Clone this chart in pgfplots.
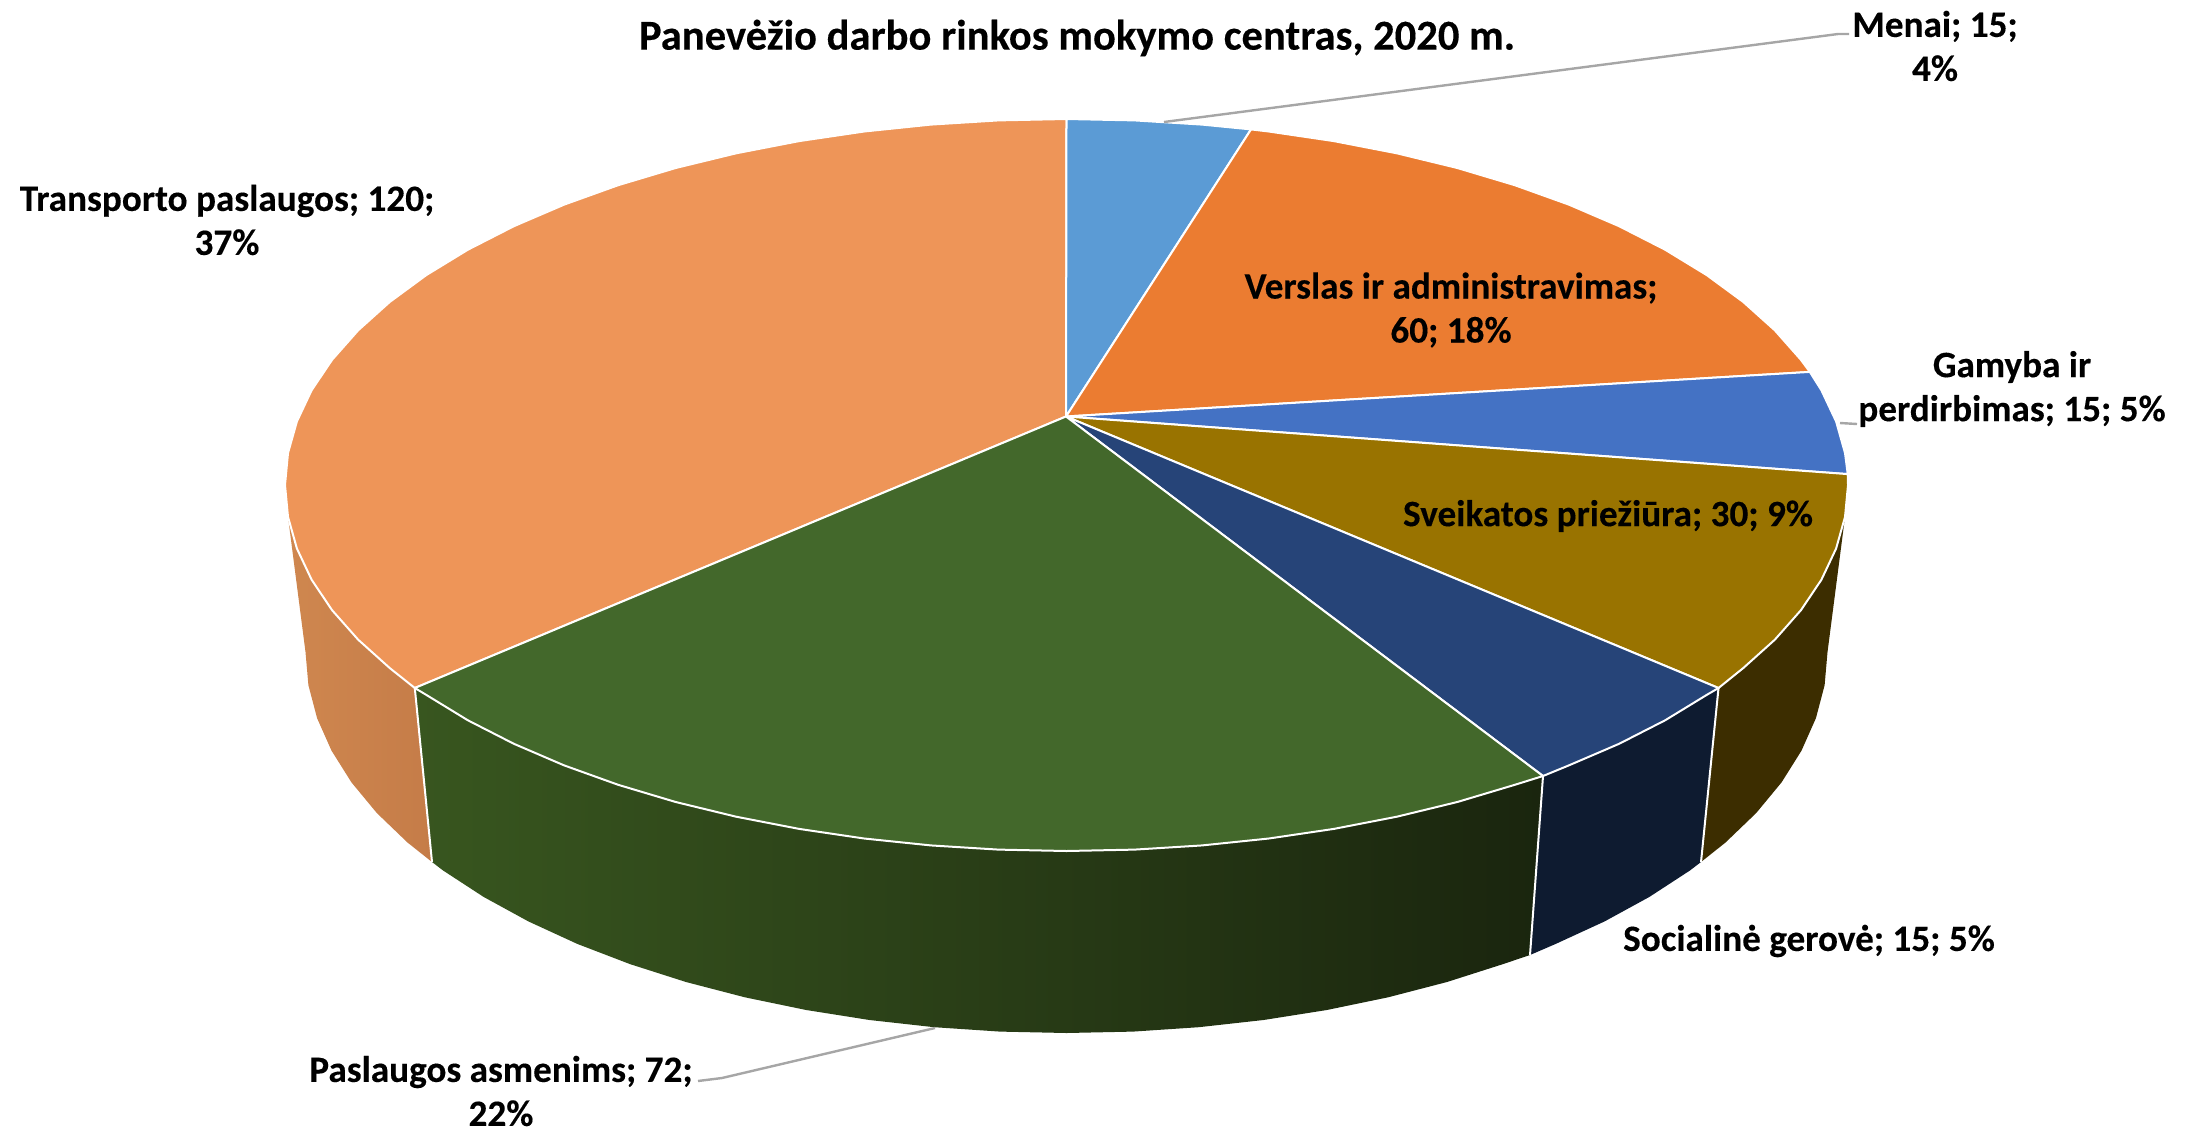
\documentclass[border=0pt]{standalone}
\usepackage{fontspec}
\setmainfont{Carlito}[BoldFeatures={FakeBold=0.25}]
\usepackage{pgfplots}
\pgfplotsset{compat=1.18}
\definecolor{cMen}{HTML}{5B9BD5}
\definecolor{cVer}{HTML}{EB7C31}
\definecolor{cGam}{HTML}{4472C4}
\definecolor{cSve}{HTML}{997300}
\definecolor{cSoc}{HTML}{264478}
\definecolor{cPas}{HTML}{43682B}
\definecolor{cTra}{HTML}{EE9558}
\definecolor{wSve}{HTML}{3C2D00}
\definecolor{wSoc}{HTML}{0E1B30}
\definecolor{wPasL}{HTML}{38561F}
\definecolor{wPasM}{HTML}{2E4A1B}
\definecolor{wPasR}{HTML}{1A250E}
\definecolor{wTraL}{HTML}{CF874F}
\definecolor{wTraR}{HTML}{C57C48}
\definecolor{lead}{HTML}{A6A6A6}
\newcommand{\lab}[1]{\fontsize{18.6}{22}\selectfont\bfseries #1}
\begin{document}
\begin{tikzpicture}
\begin{axis}[hide axis, scale only axis, width=1099.5pt, height=566pt,
  xmin=0, xmax=2199, ymin=0, ymax=1132, y dir=reverse, clip=false]
\addplot[draw=none] coordinates {(0,0)(2199,1132)};
% side walls
\addplot[draw=none, left color=wTraL, right color=wTraR] coordinates {
(414.8,688)(389.7,668)(358.2,639.7)(332.1,610.2)(311.6,579.7)(296.9,548.5)(288,516.9)
(305.5,652)(308.4,685.2)(317.1,718.2)(331.5,750.6)(351.4,782.3)(376.8,813)(407.5,842.5)(432,862)} -- cycle;
\addplot[draw=none, left color=wPasL, middle color=wPasM, right color=wPasR] coordinates {
(1543,776)(1514.8,784.8)(1457.3,802)(1396.8,816.7)(1333.8,828.9)(1268.8,838.5)(1202.2,845.4)(1134.6,849.6)(1066.5,851)
(998.4,849.6)(930.8,845.4)(864.2,838.5)(799.2,828.9)(736.2,816.7)(675.7,802)(618.2,784.8)(564.2,765.4)(513.9,743.8)(467.9,720.3)(426.3,694.9)(414.8,688)
(432,862)(443.1,870.5)(483.6,896.9)(528.4,921.4)(577.3,943.9)(630,964.1)(686,982)(744.9,997.3)(806.2,1010)(869.5,1020)(934.4,1027.2)(1000.2,1031.6)(1066.5,1033)
(1132.8,1031.6)(1198.6,1027.2)(1263.5,1020)(1326.8,1010)(1388.1,997.3)(1447,982)(1503,964.1)(1530,955)} -- cycle;
\addplot[draw=none, fill=wSoc] coordinates {
(1718.5,688)(1706.7,694.9)(1665.1,720.3)(1619.1,743.8)(1568.8,765.4)(1543,776)
(1530,955)(1555.7,943.9)(1604.6,921.4)(1649.4,896.9)(1689.9,870.5)(1701,862)} -- cycle;
\addplot[draw=none, fill=wSve] coordinates {
(1845,516.9)(1836.1,548.5)(1821.4,579.7)(1800.9,610.2)(1774.8,639.7)(1743.3,668)(1718.5,688)
(1701,862)(1725.5,842.5)(1756.2,813)(1781.6,782.3)(1801.5,750.6)(1815.9,718.2)(1824.6,685.2)(1827.5,652)} -- cycle;
% wall separators
\addplot[white, line width=1pt] coordinates {(414.8,688)(432,862)};
\addplot[white, line width=1pt] coordinates {(1543,776)(1530,955)};
\addplot[white, line width=1pt] coordinates {(1718.5,688)(1701,862)};
% top slices
\addplot[draw=white, line width=1pt, line join=round, fill=cTra] coordinates {
(1066,416.5)(414.8,688)(389.7,668)(358.2,639.7)(332.1,610.2)(311.6,579.7)(296.9,548.5)(288,516.9)(285,485)(288,453.1)(296.9,421.5)(311.6,390.3)(332.1,359.8)(358.2,330.3)(389.7,302)(426.3,275.1)(467.9,249.7)(513.9,226.2)(564.2,204.6)(618.2,185.2)(675.7,168)(736.2,153.3)(799.2,141.1)(864.2,131.5)(930.8,124.6)(998.4,120.4)(1066.5,119)} -- cycle;
\addplot[draw=white, line width=1pt, line join=round, fill=cMen] coordinates {
(1066,416.5)(1066.5,119)(1134.6,120.4)(1202.2,124.6)(1251,129.4)} -- cycle;
\addplot[draw=white, line width=1pt, line join=round, fill=cVer] coordinates {
(1066,416.5)(1251,129.4)(1268.8,131.5)(1333.8,141.1)(1396.8,153.3)(1457.3,168)(1514.8,185.2)(1568.8,204.6)(1619.1,226.2)(1665.1,249.7)(1706.7,275.1)(1743.3,302)(1774.8,330.3)(1800.9,359.8)(1809.8,371.9)} -- cycle;
\addplot[draw=white, line width=1pt, line join=round, fill=cGam] coordinates {
(1066,416.5)(1809.8,371.9)(1821.4,390.3)(1836.1,421.5)(1845,453.1)(1847.7,474.1)} -- cycle;
\addplot[draw=white, line width=1pt, line join=round, fill=cSve] coordinates {
(1066,416.5)(1847.7,474.1)(1848,485)(1845,516.9)(1836.1,548.5)(1821.4,579.7)(1800.9,610.2)(1774.8,639.7)(1743.3,668)(1718.5,688)} -- cycle;
\addplot[draw=white, line width=1pt, line join=round, fill=cSoc] coordinates {
(1066,416.5)(1718.5,688)(1706.7,694.9)(1665.1,720.3)(1619.1,743.8)(1568.8,765.4)(1543,776)} -- cycle;
\addplot[draw=white, line width=1pt, line join=round, fill=cPas] coordinates {
(1066,416.5)(1543,776)(1514.8,784.8)(1457.3,802)(1396.8,816.7)(1333.8,828.9)(1268.8,838.5)(1202.2,845.4)(1134.6,849.6)(1066.5,851)(998.4,849.6)(930.8,845.4)(864.2,838.5)(799.2,828.9)(736.2,816.7)(675.7,802)(618.2,784.8)(564.2,765.4)(513.9,743.8)(467.9,720.3)(426.3,694.9)(414.8,688)} -- cycle;
% leader lines
\addplot[lead, line width=1.2pt] coordinates {(1164,122)(1838,34)(1849,34)};
\addplot[lead, line width=1.2pt] coordinates {(1840,423)(1857,424)};
\addplot[lead, line width=1.2pt] coordinates {(935,1028)(722,1078)(698,1081)};
% labels
\node[font=\fontsize{21.3}{22}\selectfont\bfseries] at (axis cs:1077,38) {Panevėžio darbo rinkos mokymo centras, 2020 m.};
\node[align=center, font=\lab{}] at (axis cs:1935,46) {Menai; 15;\\4\%};
\node[align=center, font=\lab{}] at (axis cs:227,220) {Transporto paslaugos; 120;\\37\%};
\node[align=center, font=\lab{}] at (axis cs:1451,310) {Verslas ir administravimas;\\60; 18\%};
\node[align=center, font=\lab{}] at (axis cs:2012,389) {Gamyba ir\\perdirbimas; 15; 5\%};
\node[align=center, font=\lab{}] at (axis cs:1608,516) {Sveikatos priežiūra; 30; 9\%};
\node[align=center, font=\lab{}] at (axis cs:1809,941) {Socialinė gerovė; 15; 5\%};
\node[align=center, font=\lab{}] at (axis cs:501,1091) {Paslaugos asmenims; 72;\\22\%};
\end{axis}
\end{tikzpicture}
\end{document}
